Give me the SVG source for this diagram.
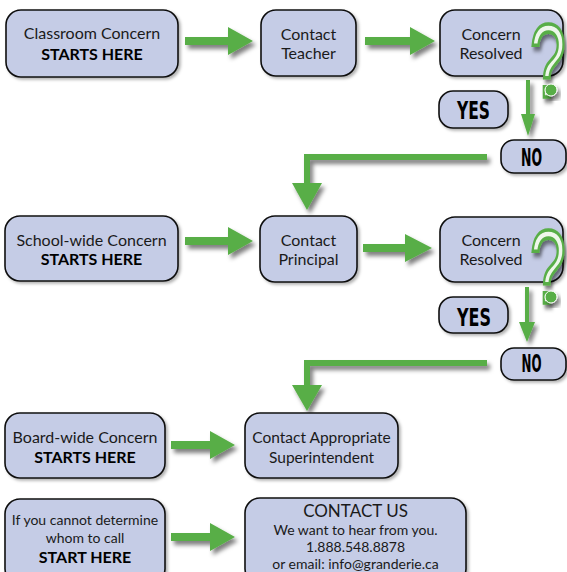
<svg xmlns="http://www.w3.org/2000/svg" width="567" height="572" viewBox="0 0 567 572">
<defs>
<filter id="sh" x="-20%" y="-20%" width="150%" height="160%">
<feDropShadow dx="3" dy="4" stdDeviation="2.2" flood-color="#000" flood-opacity="0.5"/>
</filter>
<filter id="bsh" x="-10%" y="-10%" width="130%" height="130%">
<feDropShadow dx="2" dy="2" stdDeviation="1.5" flood-color="#000" flood-opacity="0.3"/>
</filter>
<style>
.box{fill:#c5cce6;stroke:#111;stroke-width:1.6;filter:url(#bsh)}
.t{font-family:Lato,"Liberation Sans",sans-serif;font-size:16px;fill:#1a1a1a;text-anchor:middle}
.s{font-size:14px}
.b{font-weight:bold;fill:#000}
.yn{font-family:"Liberation Sans Narrow","DejaVu Sans Condensed","Liberation Sans",sans-serif;font-weight:bold;font-size:25px;fill:#000;text-anchor:middle}
.arr{fill:#58ae47;filter:url(#sh)}
.q{font-family:"Liberation Sans",sans-serif;font-size:104px;fill:#eef7ea;stroke:#58ae47;stroke-width:3.5;filter:url(#sh)}
.dot{fill:#58ae47;stroke:#fff;stroke-width:1;filter:url(#sh)}
</style>
</defs>
<rect width="567" height="572" fill="#fff"/>

<g id="connectors">
<path class="arr" d="M185,37 H228 V27 L253,41 L228,55 V45 H185 Z"/>
<path class="arr" d="M365,37 H410 V27 L435,41 L410,55 V45 H365 Z"/>
<path class="arr" d="M526,80 V114 H521 L528,136 L535,114 H530 V80 Z"/>
<path class="arr" d="M487,154 H304 V183 H292 L307,210 L322,183 H310 V160 H487 Z"/>
<path class="arr" d="M185,237 H228 V227 L253,241 L228,255 V245 H185 Z"/>
<path class="arr" d="M363,244 H405 V234 L432,248 L405,262 V252 H363 Z"/>
<path class="arr" d="M525,287 V322 H519 L527,342 L535,322 H529 V287 Z"/>
<path class="arr" d="M487,360 H304 V385 H292 L307,411 L322,385 H310 V366 H487 Z"/>
<path class="arr" d="M171,441 H210 V431 L235,445 L210,459 V449 H171 Z"/>
<path class="arr" d="M171,533 H210 V523 L235,537 L210,551 V541 H171 Z"/>
</g>

<g id="classroom">
<rect class="box" x="6" y="10" width="172" height="67" rx="15"/>
<text class="t" x="92" y="39">Classroom Concern</text>
<text class="t b" x="92" y="60">STARTS HERE</text>
</g>
<g id="teacher">
<rect class="box" x="261" y="10" width="95" height="66" rx="15"/>
<text class="t" x="308.5" y="40">Contact</text>
<text class="t" x="308.5" y="59">Teacher</text>
</g>
<g id="resolved1">
<rect class="box" x="440" y="10" width="123" height="66" rx="15"/>
<text class="t" x="491" y="40">Concern</text>
<text class="t" x="491" y="59">Resolved</text>
<text class="q" transform="translate(530,97) scale(0.62,1)">?</text>
<circle class="dot" cx="551" cy="90" r="6"/>
</g>
<g id="yes1">
<rect class="box" x="439" y="91" width="69" height="37" rx="14"/>
<text class="yn" x="473.5" y="119" textLength="33" lengthAdjust="spacingAndGlyphs">YES</text>
</g>
<g id="no1">
<rect class="box" x="501" y="140" width="65" height="33" rx="13"/>
<text class="yn" x="531.5" y="166" textLength="21" lengthAdjust="spacingAndGlyphs">NO</text>
</g>

<g id="schoolwide">
<rect class="box" x="5" y="216" width="173" height="65" rx="15"/>
<text class="t" x="91.5" y="246">School-wide Concern</text>
<text class="t b" x="91.5" y="265">STARTS HERE</text>
</g>
<g id="principal">
<rect class="box" x="260" y="216" width="97" height="66" rx="15"/>
<text class="t" x="308.5" y="246">Contact</text>
<text class="t" x="308.5" y="265">Principal</text>
</g>
<g id="resolved2">
<rect class="box" x="440" y="217" width="123" height="65" rx="15"/>
<text class="t" x="491" y="246">Concern</text>
<text class="t" x="491" y="265">Resolved</text>
<text class="q" transform="translate(530,303) scale(0.62,1)">?</text>
<circle class="dot" cx="551" cy="297" r="6"/>
</g>
<g id="yes2">
<rect class="box" x="439" y="297" width="69" height="36" rx="14"/>
<text class="yn" x="474" y="326" textLength="34" lengthAdjust="spacingAndGlyphs">YES</text>
</g>
<g id="no2">
<rect class="box" x="501" y="348" width="65" height="32" rx="13"/>
<text class="yn" x="531.5" y="372" textLength="20" lengthAdjust="spacingAndGlyphs">NO</text>
</g>

<g id="boardwide">
<rect class="box" x="5" y="413" width="160" height="65" rx="15"/>
<text class="t" x="85" y="443">Board-wide Concern</text>
<text class="t b" x="85" y="463">STARTS HERE</text>
</g>
<g id="superintendent">
<rect class="box" x="245" y="413" width="153" height="65" rx="15"/>
<text class="t" x="321.5" y="443" style="font-size:15.5px">Contact Appropriate</text>
<text class="t" x="321.5" y="463" style="font-size:15.5px">Superintendent</text>
</g>

<g id="unknown">
<rect class="box" x="5" y="499" width="160" height="85" rx="15"/>
<text class="t s" x="85" y="525">If you cannot determine</text>
<text class="t s" x="85" y="543">whom to call</text>
<text class="t b" x="85" y="563">START HERE</text>
</g>
<g id="contactus">
<rect class="box" x="245" y="498" width="221" height="86" rx="15"/>
<text class="t" x="355.5" y="517" style="font-size:17px">CONTACT US</text>
<text class="t s" x="355.5" y="535">We want to hear from you.</text>
<text class="t s" x="355.5" y="552">1.888.548.8878</text>
<text class="t s" x="355.5" y="569">or email: info@granderie.ca</text>
</g>
</svg>
